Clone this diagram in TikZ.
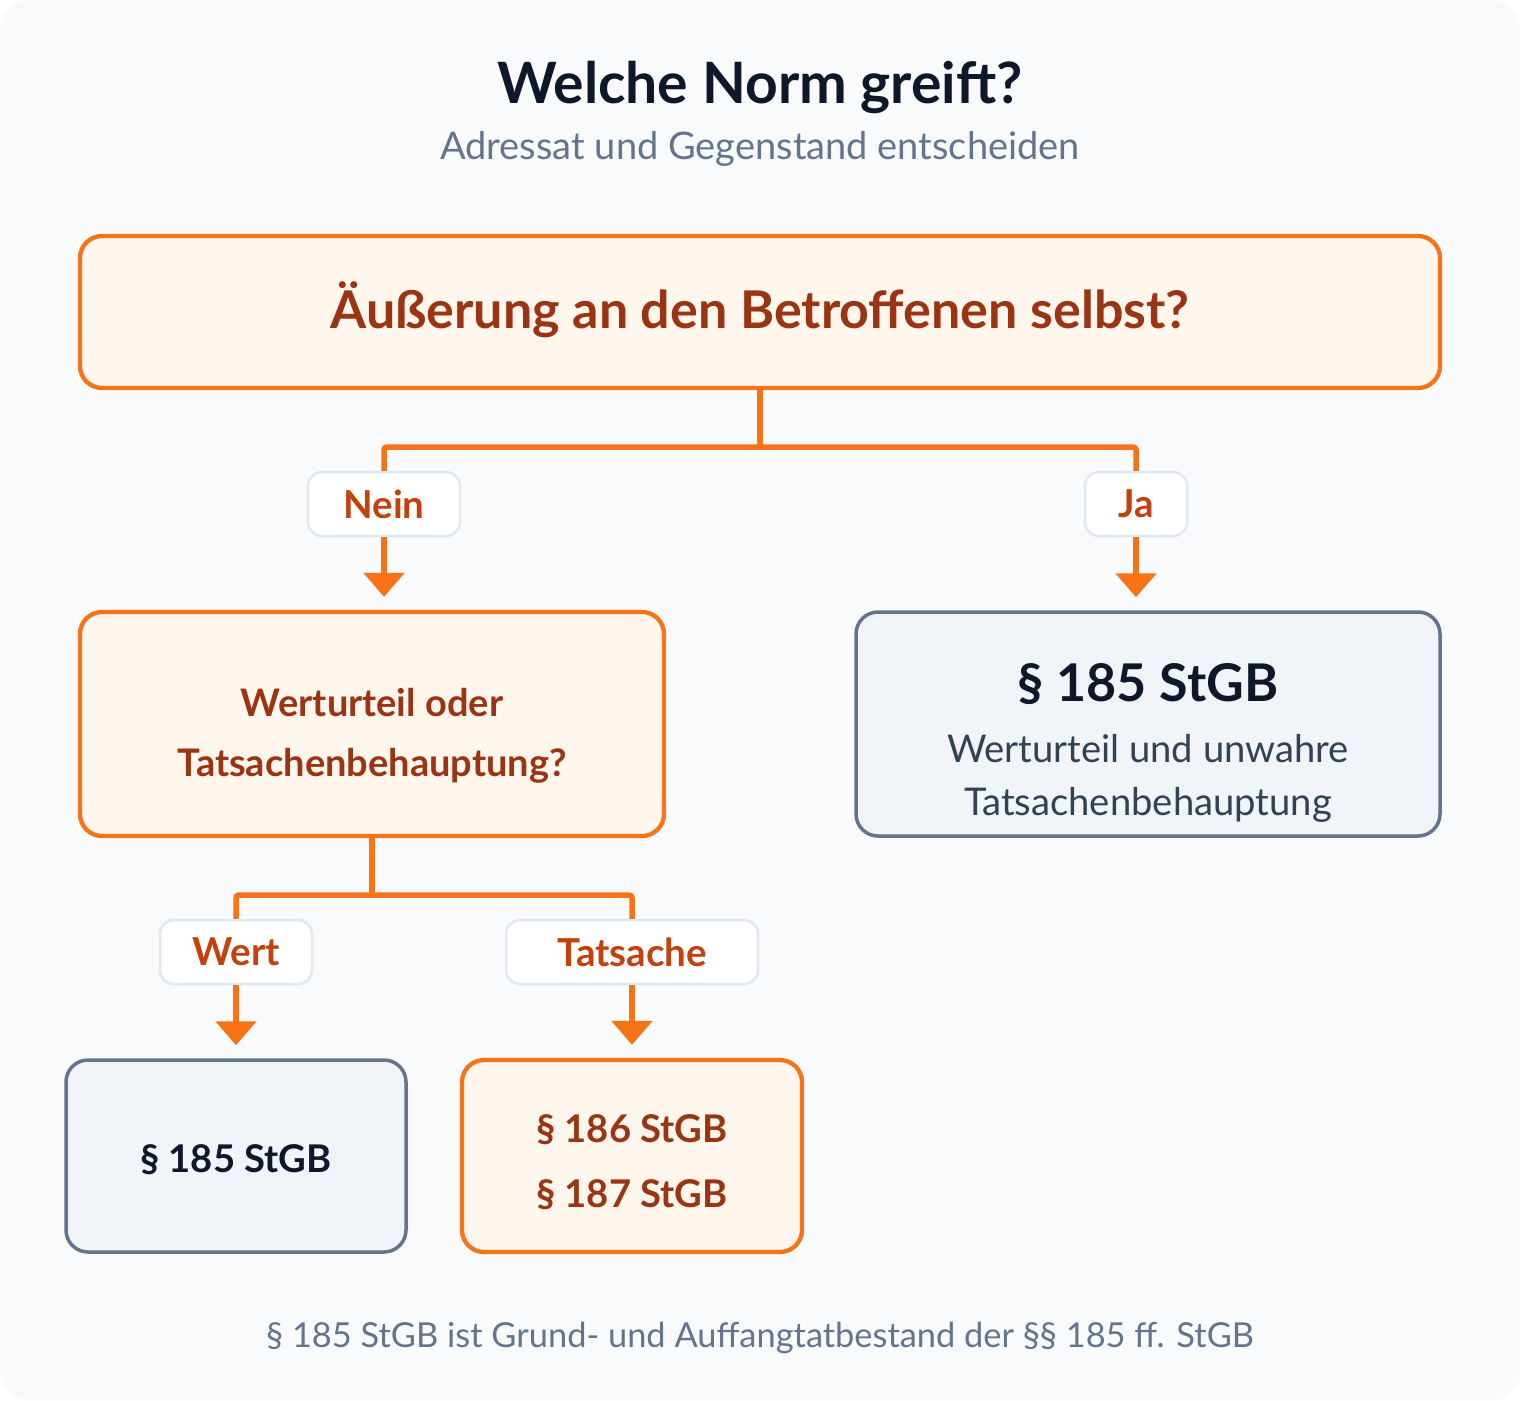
\documentclass[tikz,border=0pt]{standalone}
\usepackage{fontspec}
\setmainfont{Lato}
\usetikzlibrary{arrows.meta}
\definecolor{bgc}{HTML}{F8FAFC}
\definecolor{orng}{HTML}{F97316}
\definecolor{orfill}{HTML}{FFF7ED}
\definecolor{ortext}{HTML}{9A3412}
\definecolor{lbltext}{HTML}{C2410C}
\definecolor{lblborder}{HTML}{E2E8F0}
\definecolor{slfill}{HTML}{F1F5F9}
\definecolor{slborder}{HTML}{64748B}
\definecolor{sltitle}{HTML}{0F172A}
\definecolor{sltext}{HTML}{334155}
\definecolor{subc}{HTML}{64748B}
\tikzset{
  orbox/.style={draw=orng, line width=4.3pt, fill=orfill, rounded corners=22pt, inner sep=0pt},
  slbox/.style={draw=slborder, line width=3.5pt, fill=slfill, rounded corners=22pt, inner sep=0pt},
  ortxt/.style={text=ortext, font=\fontsize{38}{44}\selectfont\bfseries, anchor=base, inner sep=0pt},
  lblbox/.style={draw=lblborder, line width=2.5pt, fill=white, rounded corners=14pt, inner sep=0pt, minimum height=64pt, text=lbltext, font=\fontsize{38.5}{42}\selectfont\bfseries},
  conn/.style={draw=orng, line width=5.5pt, rounded corners=3pt},
  arr/.style={draw=orng, line width=5.5pt, -{Triangle[width=40pt,length=24pt]}, shorten >=13pt},
}
\begin{document}
\begin{tikzpicture}[x=1pt,y=-1pt]
\fill[white] (0,0) rectangle (1520,1400);
\fill[bgc, rounded corners=28pt] (0,0) rectangle (1520,1400);
\useasboundingbox (0,0) rectangle (1520,1400);

\node[text=sltitle, font=\fontsize{57}{62}\selectfont\bfseries, anchor=base] (title) at (760,103) {Welche Norm greift?};
\node[text=subc, font=\fontsize{38}{44}\selectfont, anchor=base] (sub) at (760,159) {Adressat und Gegenstand entscheiden};

\node[orbox, minimum width=1360pt, minimum height=152pt] (top) at (760,312) {};
\node[ortxt, font=\fontsize{52}{58}\selectfont\bfseries] (topq) at (760,328) {Äußerung an den Betroffenen selbst?};

\coordinate (bus1) at (760,447);
\node[lblbox, minimum width=152pt] (nein) at (384,504) {Nein};
\node[lblbox, minimum width=102pt] (ja) at (1136,504) {Ja};

\node[orbox, minimum width=584pt, minimum height=224pt] (left) at (372,724) {};
\node[ortxt] (leftl1) at (372,716) {Werturteil oder};
\node[ortxt] (leftl2) at (372,776) {Tatsachenbehauptung?};

\node[slbox, minimum width=584pt, minimum height=224pt] (right) at (1148,724) {};
\node[text=sltitle, font=\fontsize{52}{58}\selectfont\bfseries, anchor=base, inner sep=0pt] (rtitle) at (1148,701) {§ 185 StGB};
\node[text=sltext, font=\fontsize{38.2}{44}\selectfont, anchor=base, inner sep=0pt] (rl1) at (1148,762) {Werturteil und unwahre};
\node[text=sltext, font=\fontsize{38.2}{44}\selectfont, anchor=base, inner sep=0pt] (rl2) at (1148,815) {Tatsachenbehauptung};

\coordinate (bus2) at (372,895);
\node[lblbox, minimum width=152pt] (wert) at (236,952) {Wert};
\node[lblbox, minimum width=252pt] (tats) at (632,952) {Tatsache};

\node[slbox, minimum width=340pt, minimum height=192pt] (bl) at (236,1156) {};
\node[text=sltitle, font=\fontsize{38.2}{44}\selectfont\bfseries, anchor=base, inner sep=0pt] (bltxt) at (236,1172) {§ 185 StGB};
\node[orbox, minimum width=340pt, minimum height=192pt] (bm) at (632,1156) {};
\node[ortxt, font=\fontsize{38.2}{44}\selectfont\bfseries] (bml1) at (632,1142) {§ 186 StGB};
\node[ortxt, font=\fontsize{38.2}{44}\selectfont\bfseries] (bml2) at (632,1207) {§ 187 StGB};

\draw[conn] (top.south) -- (bus1);
\draw[conn] (nein.north) |- (bus1) -| (ja.north);
\draw[arr] (nein.south) -- (left.north -| nein.south);
\draw[arr] (ja.south) -- (right.north -| ja.south);

\draw[conn] (left.south) -- (bus2);
\draw[conn] (wert.north) |- (bus2) -| (tats.north);
\draw[arr] (wert.south) -- (bl.north -| wert.south);
\draw[arr] (tats.south) -- (bm.north -| tats.south);

\node[text=subc, font=\fontsize{34.4}{40}\selectfont, anchor=base] (foot) at (760,1347) {§ 185 StGB ist Grund- und Auffangtatbestand der §§ 185 ff. StGB};
\end{tikzpicture}
\end{document}
